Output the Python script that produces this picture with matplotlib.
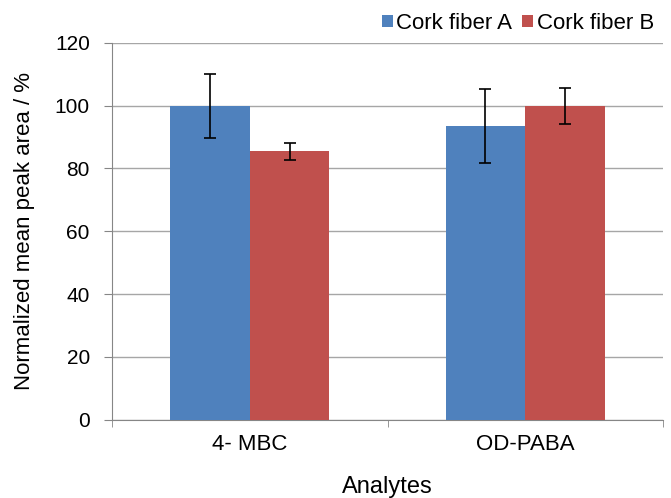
import numpy as np
import matplotlib.pyplot as plt

plt.rcParams['font.family'] = ['Liberation Sans', 'DejaVu Sans']

# Normalized mean peak area by analyte
analytes = ['4- MBC', 'OD-PABA']
fiber_a = [100, 93.5]
fiber_a_err = [10.2, 11.9]
fiber_b = [85.5, 100]
fiber_b_err = [2.7, 5.7]

fig = plt.figure(figsize=(6.71, 4.98), dpi=100)
ax = fig.add_axes([0.167, 0.157, 0.821, 0.757])

x = np.arange(len(analytes))
w = 0.289
err_kw = dict(ecolor='black', elinewidth=1.2, capsize=4, capthick=1.2)
ax.bar(x - w/2, fiber_a, w, yerr=fiber_a_err, color='#4F81BD',
       label='Cork fiber A', error_kw=err_kw, zorder=3)
ax.bar(x + w/2, fiber_b, w, yerr=fiber_b_err, color='#C0504D',
       label='Cork fiber B', error_kw=err_kw, zorder=3)

ax.set_xlim(-0.5, 1.5)
ax.set_ylim(0, 120)
ax.set_yticks(range(0, 121, 20))
ax.set_xticks(x)
ax.set_xticklabels(analytes, fontsize=16)
ax.set_xticks([-0.5, 0.5, 1.5], minor=True)
ax.tick_params(axis='x', which='major', length=0, pad=10)
ax.tick_params(axis='x', which='minor', length=5, color='#868686')
ax.tick_params(axis='y', length=6, color='#868686', pad=10, labelsize=15)

ax.grid(axis='y', color='#A6A6A6', linewidth=1, zorder=0)
for s in ['top', 'right']:
    ax.spines[s].set_visible(False)
for s in ['left', 'bottom']:
    ax.spines[s].set_color('#868686')

ax.set_ylabel('Normalized mean peak area / %', fontsize=16, labelpad=14)
ax.set_xlabel('Analytes', fontsize=17, labelpad=15)

ax.legend(loc='lower right', bbox_to_anchor=(1.0, 1.0), ncol=2, frameon=False,
          fontsize=16, handlelength=0.5, handleheight=0.5, handletextpad=0.15,
          columnspacing=0.45, borderaxespad=0)

plt.savefig('out.png', dpi=100)
